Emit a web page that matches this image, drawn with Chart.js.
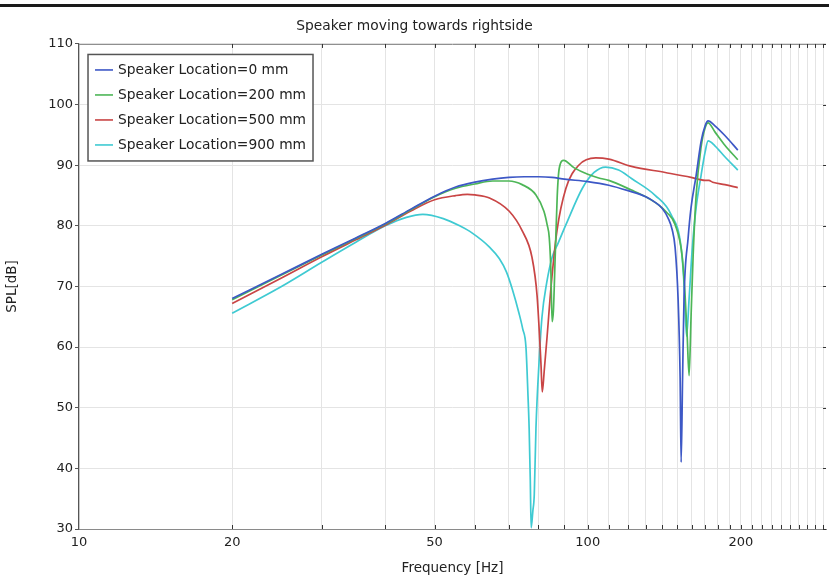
<!DOCTYPE html>
<html>
<head>
<meta charset="utf-8">
<script src="https://cdn.jsdelivr.net/npm/chart.js@4/dist/chart.umd.min.js"></script>
<style>
  html, body { margin: 0; padding: 0; background: #fff; }
  #wrap { position: relative; width: 829px; height: 581px; overflow: hidden; }
  #topbar { position: absolute; left: 0; top: 4px; width: 829px; height: 3px; background: #1a1a1a; }
  canvas { position: absolute; left: 0; top: 0; }
</style>
</head>
<body>
<div id="wrap">
  <canvas id="c" width="829" height="581"></canvas>
  <div id="topbar"></div>
</div>
<script>
// ---- data ----
const chartTitle = "Speaker moving towards rightside";
const xTitle = "Frequency [Hz]";
const yTitle = "SPL[dB]";
const seriesLabels = ["Speaker Location=0 mm", "Speaker Location=200 mm", "Speaker Location=500 mm", "Speaker Location=900 mm"];

const xGridTicks = [10,20,30,40,50,60,70,80,90,100,110,120,130,140,150,160,170,180,190,200,210,220,230,240,250,260,270,280,290];
const xTickLabels = [10,20,50,100,200];
const yTicks = [30,40,50,60,70,80,90,100,110];

const blueFreq = [20,25,30,35,40,45,50,55,60,65,70,75,80,85,90,100,110,120,130,135,140,144,146.5,148.5,150.5,151.9,152.6,153.6,154.6,157.5,159.6,163.3,167.0,170.1,172.4,177.8,186.0,197.2];
const blueSpl  = [68.0,72.0,75.3,78.0,80.4,82.8,84.9,86.4,87.2,87.7,88.0,88.1,88.1,88.0,87.7,87.3,86.7,85.8,84.8,84.0,82.9,81.2,79.4,76.4,68.0,55.0,41.0,55.0,68.0,78.0,83.0,88.3,93.9,96.5,97.3,96.5,94.9,92.5];

const greenFreq = [20,25,30,35,40,45,50,55,60,65,70,74.3,79.1,82.0,83.2,84.0,84.6,85.1,85.6,86.3,87.1,87.9,89.7,93.9,100,105.1,110,121.9,130,137.6,143,148.5,153.3,155.4,156.8,158.2,159.6,161.1,163.3,167.0,170.1,172.4,177.8,186.0,197.2];
const greenSpl  = [67.8,71.9,75.2,77.9,80.3,82.7,84.8,86.2,86.9,87.4,87.4,86.8,85.1,82.4,80.2,78.1,73.0,64.2,66.0,75.0,85.0,89.5,90.8,89.6,88.5,87.9,87.5,85.9,84.8,83.5,82.2,80.2,75.0,68.3,62.0,55.3,65.0,75.0,85.0,93.0,96.2,97.0,95.5,93.3,90.9];

const redFreq = [20,25,30,35,40,45,50,55,58,60,64.1,70.1,74.3,77.7,79.5,80.9,81.4,82.1,83.2,84.7,87.0,90.6,96.0,103.7,110,121.9,142,159.6,170,173,176,186,197.2];
const redSpl  = [67.2,71.4,74.9,77.7,80.1,82.5,84.3,85.0,85.2,85.1,84.6,82.4,79.2,74.8,68.5,57.4,52.6,56.0,61.8,70.0,79.2,86.2,90.0,91.2,91.0,89.8,88.8,88.0,87.5,87.5,87.2,86.8,86.3];

const cyanFreq = [20,25,30,35,40,44,47.4,52,56,59.3,64.1,67.0,69.2,71.1,73.3,74.5,75.6,76.3,76.7,77.1,77.4,78.0,78.5,79.1,80.2,81.3,83.0,85.1,87.5,90.6,97.6,102.9,108.4,115,121.9,135.8,145.9,152.6,154.6,156.4,158.2,160.4,163.3,167.0,170.1,172.4,177.8,186.0,197.2];
const cyanSpl  = [65.6,70.0,74.0,77.3,80.0,81.4,81.9,81.2,80.0,78.8,76.5,74.6,72.4,69.5,65.5,63.0,60.0,52.0,46.6,38.0,30.2,33.0,35.7,46.6,57.4,65.0,70.5,74.8,77.2,80.2,86.2,88.8,89.7,89.2,87.8,85.0,81.8,76.4,70.5,61.8,68.0,76.0,83.0,88.3,92.2,94.0,93.2,91.4,89.2];

// ---- styles ----
const colors = ['#3d58c6', '#4db657', '#c94545', '#3fcad2'];
const FONT = "'DejaVu Sans', sans-serif";

function pts(xs, ys) { return xs.map((x, i) => ({ x: x, y: ys[i] })); }
const seriesData = [pts(blueFreq, blueSpl), pts(greenFreq, greenSpl), pts(redFreq, redSpl), pts(cyanFreq, cyanSpl)];

const datasets = seriesData.map((d, i) => ({
  label: seriesLabels[i],
  data: d,
  borderColor: colors[i],
  backgroundColor: colors[i],
  borderWidth: 1.7,
  pointRadius: 0,
  cubicInterpolationMode: 'monotone',
  fill: false
}));

// legend drawn inside the plot area + frame ticks
const framePlugin = {
  id: 'frame',
  afterDatasetsDraw(chart) {
    const { ctx, chartArea: a, scales } = chart;
    ctx.save();
    // top border
    ctx.strokeStyle = '#8a8a8a';
    ctx.lineWidth = 1;
    ctx.beginPath();
    ctx.moveTo(a.left, a.top + 0.5);
    ctx.lineTo(a.right, a.top + 0.5);
    ctx.stroke();
    // inward tick marks top and bottom
    ctx.strokeStyle = '#333';
    ctx.beginPath();
    xGridTicks.forEach(v => {
      const px = Math.round(scales.x.getPixelForValue(v)) + 0.5;
      if (px <= a.left + 1 || px > a.right) return;
      ctx.moveTo(px, a.bottom); ctx.lineTo(px, a.bottom - 4);
      ctx.moveTo(px, a.top); ctx.lineTo(px, a.top + 4);
    });
    yTicks.forEach(v => {
      const py = Math.round(scales.y.getPixelForValue(v)) + 0.5;
      ctx.moveTo(a.right, py); ctx.lineTo(a.right - 3, py);
    });
    ctx.stroke();

    // legend box
    const bx = a.left + 9, by = a.top + 10.5, bw = 225, bh = 106.5;
    ctx.fillStyle = '#ffffff';
    ctx.fillRect(bx, by, bw, bh);
    ctx.strokeStyle = '#555';
    ctx.lineWidth = 1.5;
    ctx.strokeRect(bx, by, bw, bh);
    ctx.font = "13.8px " + FONT;
    ctx.textBaseline = 'middle';
    ctx.textAlign = 'left';
    seriesLabels.forEach((lab, i) => {
      const yy = by + 15.5 + i * 25;
      ctx.strokeStyle = colors[i];
      ctx.lineWidth = 1.6;
      ctx.beginPath();
      ctx.moveTo(bx + 7, yy); ctx.lineTo(bx + 25, yy);
      ctx.stroke();
      ctx.fillStyle = '#222';
      ctx.fillText(lab, bx + 30, yy + 0.5);
    });
    ctx.restore();
  }
};

new Chart(document.getElementById('c'), {
  type: 'line',
  data: { datasets },
  plugins: [framePlugin],
  options: {
    responsive: false,
    animation: false,
    events: [],
    layout: { padding: { left: 0, right: 0, top: 0, bottom: 0 } },
    plugins: {
      legend: { display: false },
      tooltip: { enabled: false },
      title: {
        display: true,
        text: chartTitle,
        color: '#222',
        font: { family: FONT, size: 13.8, weight: 'normal' },
        padding: { top: 18.5, bottom: 8.9 }
      }
    },
    scales: {
      x: {
        type: 'logarithmic',
        min: 10,
        max: 294,
        afterBuildTicks: (scale) => { scale.ticks = xGridTicks.map(v => ({ value: v })); },
        ticks: {
          autoSkip: false,
          maxRotation: 0,
          minRotation: 0,
          padding: 6,
          color: '#222',
          font: { family: FONT, size: 13 },
          callback: (v) => xTickLabels.includes(Number(v)) ? String(v) : ''
        },
        grid: { color: '#e4e4e4', lineWidth: 1, drawTicks: false },
        border: { display: true, color: '#8a8a8a', width: 1 },
        title: {
          display: true,
          text: xTitle,
          color: '#222',
          font: { family: FONT, size: 13.5 },
          padding: { top: 3.3, bottom: 4.9 }
        }
      },
      y: {
        type: 'linear',
        min: 30,
        max: 110,
        afterBuildTicks: (scale) => { scale.ticks = yTicks.map(v => ({ value: v })); },
        ticks: {
          padding: 2,
          color: '#222',
          font: { family: FONT, size: 13 }
        },
        grid: { color: '#e4e4e4', lineWidth: 1, drawTicks: true, tickLength: 4, tickColor: '#555' },
        border: { display: true, color: '#555', width: 1.2 },
        title: {
          display: true,
          text: yTitle,
          color: '#222',
          font: { family: FONT, size: 13.5 },
          padding: { top: 3.9, bottom: 26.1 }
        }
      }
    }
  }
});
</script>
</body>
</html>
